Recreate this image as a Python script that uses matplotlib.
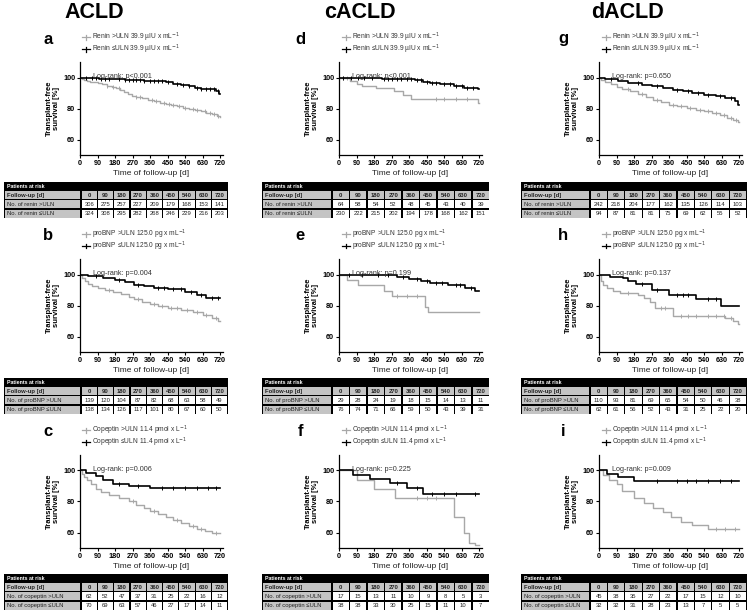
import matplotlib
matplotlib.use('Agg')
import matplotlib.pyplot as plt
from matplotlib.patches import Rectangle
from matplotlib.lines import Line2D
import numpy as np

plt.rcParams['font.family'] = ['Liberation Sans', 'DejaVu Sans']

# ---------------- data ----------------
followup = [0, 90, 180, 270, 360, 450, 540, 630, 720]
xticks = [0, 90, 180, 270, 360, 450, 540, 630, 720]
yticks = [60, 80, 100]

col_titles = ['ACLD', 'cACLD', 'dACLD']
panel_letters = [['a', 'd', 'g'], ['b', 'e', 'h'], ['c', 'f', 'i']]
legend_hi = ['Renin >ULN 39.9 \u00b5IU x mL$^{-1}$',
             'proBNP >ULN 125.0 pg x mL$^{-1}$',
             'Copeptin >ULN 11.4 pmol x L$^{-1}$']
legend_lo = ['Renin \u2264ULN 39.9 \u00b5IU x mL$^{-1}$',
             'proBNP \u2264ULN 125.0 pg x mL$^{-1}$',
             'Copeptin \u2264ULN 11.4 pmol x L$^{-1}$']
row_hi = ['No. of renin >ULN', 'No. of proBNP >ULN', 'No. of copeptin >ULN']
row_lo = ['No. of renin \u2264ULN', 'No. of proBNP \u2264ULN', 'No. of copeptin \u2264ULN']
logrank = [['Log-rank: p<0.001', 'Log-rank: p<0.001', 'Log-rank: p=0.650'],
           ['Log-rank: p=0.004', 'Log-rank: p=0.199', 'Log-rank: p=0.137'],
           ['Log-rank: p=0.006', 'Log-rank: p=0.225', 'Log-rank: p=0.009']]

# numbers at risk
a_risk_hi = [306, 275, 257, 227, 209, 179, 168, 153, 141]
a_risk_lo = [324, 308, 295, 282, 268, 246, 229, 216, 203]
d_risk_hi = [64, 58, 54, 52, 48, 45, 43, 40, 39]
d_risk_lo = [230, 222, 215, 202, 194, 178, 168, 162, 151]
g_risk_hi = [242, 218, 204, 177, 162, 135, 126, 114, 103]
g_risk_lo = [94, 87, 81, 81, 75, 69, 62, 55, 52]
b_risk_hi = [139, 120, 104, 87, 82, 68, 63, 58, 49]
b_risk_lo = [138, 134, 126, 117, 101, 80, 67, 60, 50]
e_risk_hi = [29, 28, 24, 19, 18, 15, 14, 13, 11]
e_risk_lo = [76, 74, 71, 66, 59, 50, 43, 39, 31]
h_risk_hi = [110, 93, 81, 69, 65, 54, 50, 46, 38]
h_risk_lo = [62, 61, 56, 52, 43, 31, 25, 22, 20]
c_risk_hi = [62, 52, 47, 37, 31, 25, 22, 16, 12]
c_risk_lo = [70, 69, 63, 57, 46, 27, 17, 14, 11]
f_risk_hi = [17, 15, 13, 11, 10, 9, 8, 5, 3]
f_risk_lo = [38, 38, 33, 30, 25, 15, 11, 10, 7]
i_risk_hi = [45, 38, 35, 27, 22, 17, 15, 12, 10]
i_risk_lo = [32, 32, 31, 28, 23, 13, 7, 5, 5]

# survival curves (step times, survival %, censor times)
a_hi_t = [0, 8, 20, 35, 50, 70, 90, 115, 140, 165, 185, 205, 225, 245, 265, 290, 320, 350, 380, 410, 440, 470, 500, 530, 560, 590, 620, 650, 680, 705, 718]
a_hi_s = [100, 99.3, 98.6, 98, 97.4, 96.8, 96.2, 95.5, 94.8, 94, 93, 91.8, 90.5, 89.3, 88.2, 87.4, 86.6, 85.8, 84.8, 83.8, 82.8, 82, 81.3, 80.6, 79.8, 79, 78.2, 77.2, 76.2, 75.2, 74.2]
a_hi_c = [140, 170, 200, 290, 310, 370, 390, 430, 460, 480, 510, 540, 580, 600, 640, 670, 690, 710]
a_lo_t = [0, 40, 100, 160, 230, 330, 400, 440, 480, 520, 560, 590, 620, 700, 715]
a_lo_s = [100, 99.6, 99.2, 98.8, 98.4, 98, 97.5, 96.8, 96, 95, 94.3, 93.3, 92.3, 91.3, 89.5]
a_lo_c = [30, 60, 80, 110, 130, 150, 200, 230, 250, 270, 290, 310, 330, 360, 380, 400, 420, 450, 500, 530, 560, 600, 620, 650, 670, 690, 710]

d_hi_t = [0, 55, 90, 120, 190, 285, 330, 370, 712]
d_hi_s = [100, 98, 96, 94.5, 93.2, 91.5, 89, 86, 83.5]
d_hi_c = [20, 40, 500, 540, 600, 660]
d_lo_t = [0, 220, 390, 430, 470, 520, 590, 640, 715]
d_lo_s = [100, 99, 98.3, 97.4, 96.5, 95.5, 94.5, 93.5, 92.5]
d_lo_c = [20, 60, 100, 130, 170, 230, 250, 270, 300, 320, 350, 370, 400, 420, 450, 480, 500, 540, 570, 600, 630, 660, 690]

g_hi_t = [0, 10, 30, 60, 90, 120, 160, 200, 240, 280, 320, 360, 400, 450, 500, 540, 580, 620, 660, 690, 715]
g_hi_s = [100, 98.5, 97, 95.5, 94, 92.5, 91, 89.5, 87.5, 85.5, 84, 82.5, 81.5, 80.3, 79.3, 78.3, 77, 75.5, 74, 72.5, 71]
g_hi_c = [150, 220, 300, 380, 420, 470, 520, 560, 600, 640, 680, 705]
g_lo_t = [0, 30, 100, 150, 220, 270, 330, 380, 430, 480, 540, 600, 650, 700, 715]
g_lo_s = [100, 99, 97.8, 96.6, 95.4, 94.2, 93, 92, 91, 90, 89, 87.8, 86.5, 85, 82.5]
g_lo_c = [60, 200, 300, 400, 460, 510, 560, 620, 680]

b_hi_t = [0, 10, 25, 40, 60, 90, 130, 170, 210, 250, 280, 320, 360, 400, 450, 520, 580, 630, 680, 710]
b_hi_s = [100, 97.5, 95.5, 94, 92.5, 91, 90, 89, 87.5, 85.5, 84, 82.5, 81, 79.5, 78.3, 77, 75.5, 74, 72, 70]
b_hi_c = [150, 300, 380, 420, 470, 500, 550, 600, 650, 700]
b_lo_t = [0, 40, 120, 180, 230, 280, 330, 380, 450, 540, 600, 650]
b_lo_s = [100, 99, 98, 96.5, 95, 93.5, 92.5, 91.5, 90.5, 89, 87, 85]
b_lo_c = [80, 200, 300, 400, 430, 480, 520, 570, 620, 680, 710]

e_hi_t = [0, 40, 100, 230, 270, 440, 455]
e_hi_s = [100, 96.5, 93, 89.5, 86, 79, 75.5]
e_hi_c = [300, 350, 400]
e_lo_t = [0, 300, 360, 420, 470, 560, 650, 700]
e_lo_s = [100, 98.6, 97.2, 95.8, 94.4, 93, 91.5, 89.5]
e_lo_c = [50, 120, 200, 250, 330, 400, 450, 500, 530, 600, 620, 680]

h_hi_t = [0, 8, 20, 40, 70, 110, 200, 230, 260, 290, 380, 650, 690, 715]
h_hi_s = [100, 96, 93.5, 91.5, 89.5, 88, 87, 85, 82, 78.5, 73.5, 72, 70, 68]
h_hi_c = [150, 320, 340, 420, 460, 500, 560, 600, 640, 680]
h_lo_t = [0, 56, 124, 150, 190, 270, 360, 500, 625]
h_lo_s = [100, 98.7, 97.5, 96, 94, 90, 87, 84.5, 80]
h_lo_c = [220, 300, 400, 430, 460, 560, 600]

c_hi_t = [0, 8, 20, 35, 55, 80, 110, 150, 200, 250, 290, 330, 360, 400, 440, 480, 520, 560, 600, 640, 680]
c_hi_s = [100, 98, 96, 94, 91, 88, 86, 84, 82, 80, 78, 76, 74, 72, 70, 68, 66, 64, 62, 61, 59.5]
c_hi_c = [270, 380, 500, 580, 620, 700]
c_lo_t = [0, 30, 80, 120, 170, 250, 360]
c_lo_s = [100, 98.5, 96.5, 94, 91.5, 90, 88.5]
c_lo_c = [200, 300, 420, 480, 540, 600, 660, 700]

f_hi_t = [0, 90, 180, 290, 590, 640, 670, 700]
f_hi_s = [100, 94, 88, 82, 70, 60, 53, 52]
f_hi_c = [400, 450, 500]
f_lo_t = [0, 70, 160, 260, 350, 430]
f_lo_s = [100, 97, 94.5, 92, 89, 85]
f_lo_c = [300, 400, 480, 540, 600, 700]

i_hi_t = [0, 20, 50, 90, 120, 180, 230, 280, 330, 370, 420, 480, 560]
i_hi_s = [100, 97, 94, 91, 87, 82, 79, 76, 73, 70, 67, 65, 62]
i_hi_c = [600, 650, 700]
i_lo_t = [0, 40, 100, 180]
i_lo_s = [100, 98, 96, 93.5]
i_lo_c = [300, 400, 450, 500, 560, 620, 680]

curves = [[(a_hi_t, a_hi_s, a_hi_c, a_lo_t, a_lo_s, a_lo_c),
           (d_hi_t, d_hi_s, d_hi_c, d_lo_t, d_lo_s, d_lo_c),
           (g_hi_t, g_hi_s, g_hi_c, g_lo_t, g_lo_s, g_lo_c)],
          [(b_hi_t, b_hi_s, b_hi_c, b_lo_t, b_lo_s, b_lo_c),
           (e_hi_t, e_hi_s, e_hi_c, e_lo_t, e_lo_s, e_lo_c),
           (h_hi_t, h_hi_s, h_hi_c, h_lo_t, h_lo_s, h_lo_c)],
          [(c_hi_t, c_hi_s, c_hi_c, c_lo_t, c_lo_s, c_lo_c),
           (f_hi_t, f_hi_s, f_hi_c, f_lo_t, f_lo_s, f_lo_c),
           (i_hi_t, i_hi_s, i_hi_c, i_lo_t, i_lo_s, i_lo_c)]]
risks = [[(a_risk_hi, a_risk_lo), (d_risk_hi, d_risk_lo), (g_risk_hi, g_risk_lo)],
         [(b_risk_hi, b_risk_lo), (e_risk_hi, e_risk_lo), (h_risk_hi, h_risk_lo)],
         [(c_risk_hi, c_risk_lo), (f_risk_hi, f_risk_lo), (i_risk_hi, i_risk_lo)]]

# ---------------- layout ----------------
W, H = 749, 611
fig = plt.figure(figsize=(W / 100, H / 100), dpi=100)
GRAY = '#a8a8a8'
TXT = '#333333'


def px_axes(l, t, w, h):
    return fig.add_axes([l / W, 1 - (t + h) / H, w / W, h / H])


def ftext(x, y, s, **kw):
    fig.text(x / W, 1 - y / H, s, **kw)


col_ax_left = [80, 339, 599]
ax_w = 143
row_ax_top = [62, 259, 455]
ax_h = 93
col_title_x = [94, 360, 628]
letter_x = [48, 300, 563]
legend_x = [86, 346, 606]
table_left = [4, 262, 521]
table_lw = [77, 70, 69]
table_cw = [16.3, 17.5, 17.4]
table_top = [182, 378, 574]


def draw_km(ax, t, s, c, color, lw):
    end = 722
    tt = list(t) + [end]
    ss = list(s) + [s[-1]]
    ax.step(tt, ss, where='post', color=color, lw=lw, zorder=3 if color == 'black' else 2)
    idx = np.searchsorted(np.array(t), np.array(c), side='right') - 1
    cy = np.array(s)[idx]
    ax.plot(c, cy, linestyle='none', marker='|', ms=3.2, mew=0.7, color=color,
            zorder=3 if color == 'black' else 2)


def draw_table(l, t, lw, cw, lab_hi, lab_lo, hi, lo):
    rh = [8.5, 9.2, 9.2, 9.2]
    tw = lw + 9 * cw
    th = sum(rh)
    ax = px_axes(l, t, tw, th)
    ax.set_xlim(0, tw)
    ax.set_ylim(th, 0)
    ax.axis('off')
    ax.add_patch(Rectangle((0, 0), tw, th, facecolor='black', edgecolor='none'))
    ax.text(3, rh[0] / 2 + 0.3, 'Patients at risk', color='white', fontweight='bold',
            fontsize=3.8, va='center', ha='left')
    rows = [('Follow-up [d]', followup, '#c4c4c4', 'bold'),
            (lab_hi, hi, 'white', 'normal'),
            (lab_lo, lo, 'white', 'normal')]
    y = rh[0]
    for i, (lab, vals, bg, fw) in enumerate(rows):
        h = rh[i + 1]
        ax.add_patch(Rectangle((1.2, y + 0.6), lw - 2.0, h - 1.2, facecolor='#c4c4c4', edgecolor='none'))
        ax.text(3, y + h / 2 + 0.3, lab, fontsize=4.2, va='center', ha='left', color='#222222',
                fontweight=fw)
        for j, v in enumerate(vals):
            x0 = lw + j * cw
            ax.add_patch(Rectangle((x0 + 0.6, y + 0.6), cw - 1.2, h - 1.2, facecolor=bg, edgecolor='none'))
            ax.text(x0 + cw / 2, y + h / 2 + 0.3, str(v), fontsize=4.2, va='center', ha='center',
                    color='#222222', fontweight=fw)
        y += h


for ci in range(3):
    ftext(col_title_x[ci], 12, col_titles[ci], fontsize=15.5, fontweight='bold', ha='center', va='center')

for ri in range(3):
    for ci in range(3):
        ax = px_axes(col_ax_left[ci], row_ax_top[ri], ax_w, ax_h)
        ht, hs, hc, lt, ls, lc = curves[ri][ci]
        draw_km(ax, ht, hs, hc, GRAY, 1.0)
        draw_km(ax, lt, ls, lc, 'black', 1.2)
        ax.set_xlim(0, 735)
        ax.set_ylim(50, 110)
        ax.set_xticks(xticks)
        ax.set_yticks(yticks)
        ax.tick_params(labelsize=5.2, length=2, width=0.8, pad=1.5)
        for lab in ax.get_xticklabels() + ax.get_yticklabels():
            lab.set_fontweight('bold')
        for sp in ['top', 'right']:
            ax.spines[sp].set_visible(False)
        for sp in ['left', 'bottom']:
            ax.spines[sp].set_linewidth(0.9)
        ax.set_xlabel('Time of follow-up [d]', fontsize=6, labelpad=2, color='#222222')
        ax.set_ylabel('Transplant-free\nsurvival [%]', fontsize=5.5, fontweight='bold',
                      labelpad=2, linespacing=1.0)
        ax.text(0.09, 0.84, logrank[ri][ci], transform=ax.transAxes, fontsize=5.2,
                color=TXT, ha='left', va='center')

        top = row_ax_top[ri]
        ftext(letter_x[ci], top - 23, panel_letters[ri][ci], fontsize=12, fontweight='bold',
              ha='center', va='center')
        # legend
        for k, (lab, col) in enumerate([(legend_hi[ri], GRAY), (legend_lo[ri], 'black')]):
            yy = top - 25 + k * 12
            x0 = legend_x[ci]
            fig.add_artist(Line2D([(x0 - 4) / W, (x0 + 4) / W], [1 - yy / H, 1 - yy / H],
                                  color=col, lw=0.9, transform=fig.transFigure))
            fig.add_artist(Line2D([x0 / W, x0 / W], [1 - (yy - 2.5) / H, 1 - (yy + 2.5) / H],
                                  color=col, lw=0.9, transform=fig.transFigure))
            ftext(x0 + 6, yy, lab, fontsize=4.8, color=TXT, ha='left', va='center')

        hi, lo = risks[ri][ci]
        draw_table(table_left[ci], table_top[ri], table_lw[ci], table_cw[ci],
                   row_hi[ri], row_lo[ri], hi, lo)

fig.savefig('out.png', dpi=100)
